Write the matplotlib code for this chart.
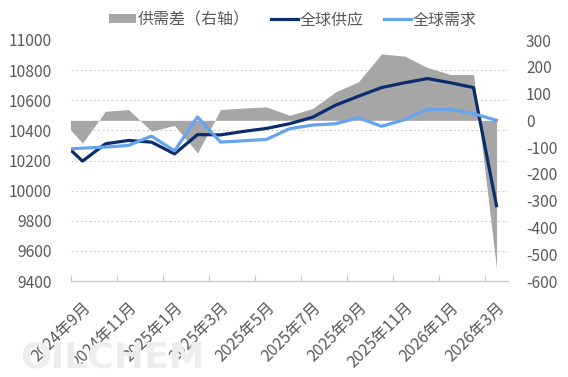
import matplotlib
matplotlib.use('Agg')
import matplotlib.pyplot as plt
from matplotlib.patches import Patch
from matplotlib.lines import Line2D
import numpy as np

plt.rcParams['font.family'] = ['Noto Sans CJK SC', 'DejaVu Sans']
plt.rcParams['axes.unicode_minus'] = False

# Data (2024年8月 is only partly visible at the left edge)
months = ['2024年8月', '2024年9月', '2024年10月', '2024年11月', '2024年12月',
          '2025年1月', '2025年2月', '2025年3月', '2025年4月', '2025年5月',
          '2025年6月', '2025年7月', '2025年8月', '2025年9月', '2025年10月',
          '2025年11月', '2025年12月', '2026年1月', '2026年2月', '2026年3月']
supply = [10340, 10196, 10311, 10333, 10322, 10244, 10372, 10370, 10393, 10413,
          10444, 10487, 10567, 10627, 10684, 10716, 10744, 10716, 10684, 9900]
demand = [10273, 10282, 10289, 10300, 10362, 10264, 10489, 10322, 10331, 10340,
          10411, 10435, 10444, 10484, 10427, 10471, 10540, 10540, 10511, 10467]
gap = [10, -85, 34, 40, -40, -19, -122, 40, 46, 50,
       19, 44, 106, 144, 248, 240, 197, 171, 171, -552]

left_ticks = list(range(9400, 11001, 200))
right_ticks = list(range(-600, 301, 100))

c_gap = '#A6A6A6'
c_sup = '#0C2D6B'
c_dem = '#66A3EC'
c_txt = '#595959'

x = np.arange(len(months)) - 1

fig = plt.figure(figsize=(5.68, 3.77), dpi=100)
fig.patch.set_facecolor('white')

# watermark
fig.text(20 / 568, 1 - 368 / 377, 'OILCHEM', fontsize=26, fontweight='bold',
         color='#EDEDED', zorder=0, family='DejaVu Sans')

ax = fig.add_axes([71 / 568, 1 - 281 / 377, 437 / 568, 241 / 377])
ax2 = ax.twinx()
ax2.set_zorder(ax.get_zorder() - 1)
ax.patch.set_visible(False)

# area on right axis
ax2.fill_between(x, 0, gap, color=c_gap, lw=0, zorder=2)
ax2.set_ylim(right_ticks[0], right_ticks[-1])
ax2.set_yticks(right_ticks)
ax2.set_yticklabels([str(v) for v in right_ticks])

# gridlines corresponding to left ticks, drawn on the lower axes
lo, hi = left_ticks[0], left_ticks[-1]
rlo, rhi = right_ticks[0], right_ticks[-1]
grid_pos = [rlo + (v - lo) * (rhi - rlo) / (hi - lo) for v in left_ticks[1:]]
ax2.set_yticks(grid_pos, minor=True)
ax2.yaxis.grid(True, which='minor', color='#D0D0D0', linestyle=(0, (2, 2)), lw=0.8, zorder=0)
ax2.yaxis.grid(False, which='major')
ax2.tick_params(axis='y', which='minor', length=0)
ax2.tick_params(axis='y', which='major', length=0, pad=13, labelsize=11.2, labelcolor=c_txt)

# lines on left axis
ax.plot(x, supply, color=c_sup, lw=2.3, zorder=3, solid_joinstyle='round')
ax.plot(x, demand, color=c_dem, lw=2.3, zorder=3, solid_joinstyle='round')
ax.set_ylim(lo, hi)
ax.set_yticks(left_ticks)
ax.set_yticklabels([str(v) for v in left_ticks])
ax.tick_params(axis='y', length=0, pad=14, labelsize=11.2, labelcolor=c_txt)

ax.set_xlim(-0.5, len(months) - 1.5)
lab_idx = list(range(1, len(months), 2))
ax.set_xticks([x[i] for i in lab_idx])
ax.set_xticklabels([months[i] for i in lab_idx], rotation=45, ha='right',
                   va='top', rotation_mode='anchor')
ax.tick_params(axis='x', which='major', length=0, pad=13, labelsize=11.5, labelcolor=c_txt)
ax.set_xticks([x[i] - 0.5 for i in lab_idx], minor=True)
ax.tick_params(axis='x', which='minor', direction='in', length=4.5, color='#C8C8C8', width=0.8)

for a in (ax, ax2):
    for s in ('top', 'left', 'right'):
        a.spines[s].set_visible(False)
ax2.spines['bottom'].set_visible(False)
ax.spines['bottom'].set_color('#C8C8C8')
ax.spines['bottom'].set_linewidth(0.9)

handles = [Patch(facecolor=c_gap, edgecolor='none'),
           Line2D([], [], color=c_sup, lw=2.3),
           Line2D([], [], color=c_dem, lw=2.3)]
labels = ['供需差（右轴）', '全球供应', '全球需求']
leg = fig.legend(handles, labels, loc='center', bbox_to_anchor=(293 / 568, 1 - 20 / 377),
                 ncol=3, frameon=False, fontsize=11.5, handlelength=1.7, handleheight=0.5,
                 handletextpad=0.1, columnspacing=1.3, labelcolor=c_txt)

fig.savefig('out.png', dpi=100, facecolor='white')
